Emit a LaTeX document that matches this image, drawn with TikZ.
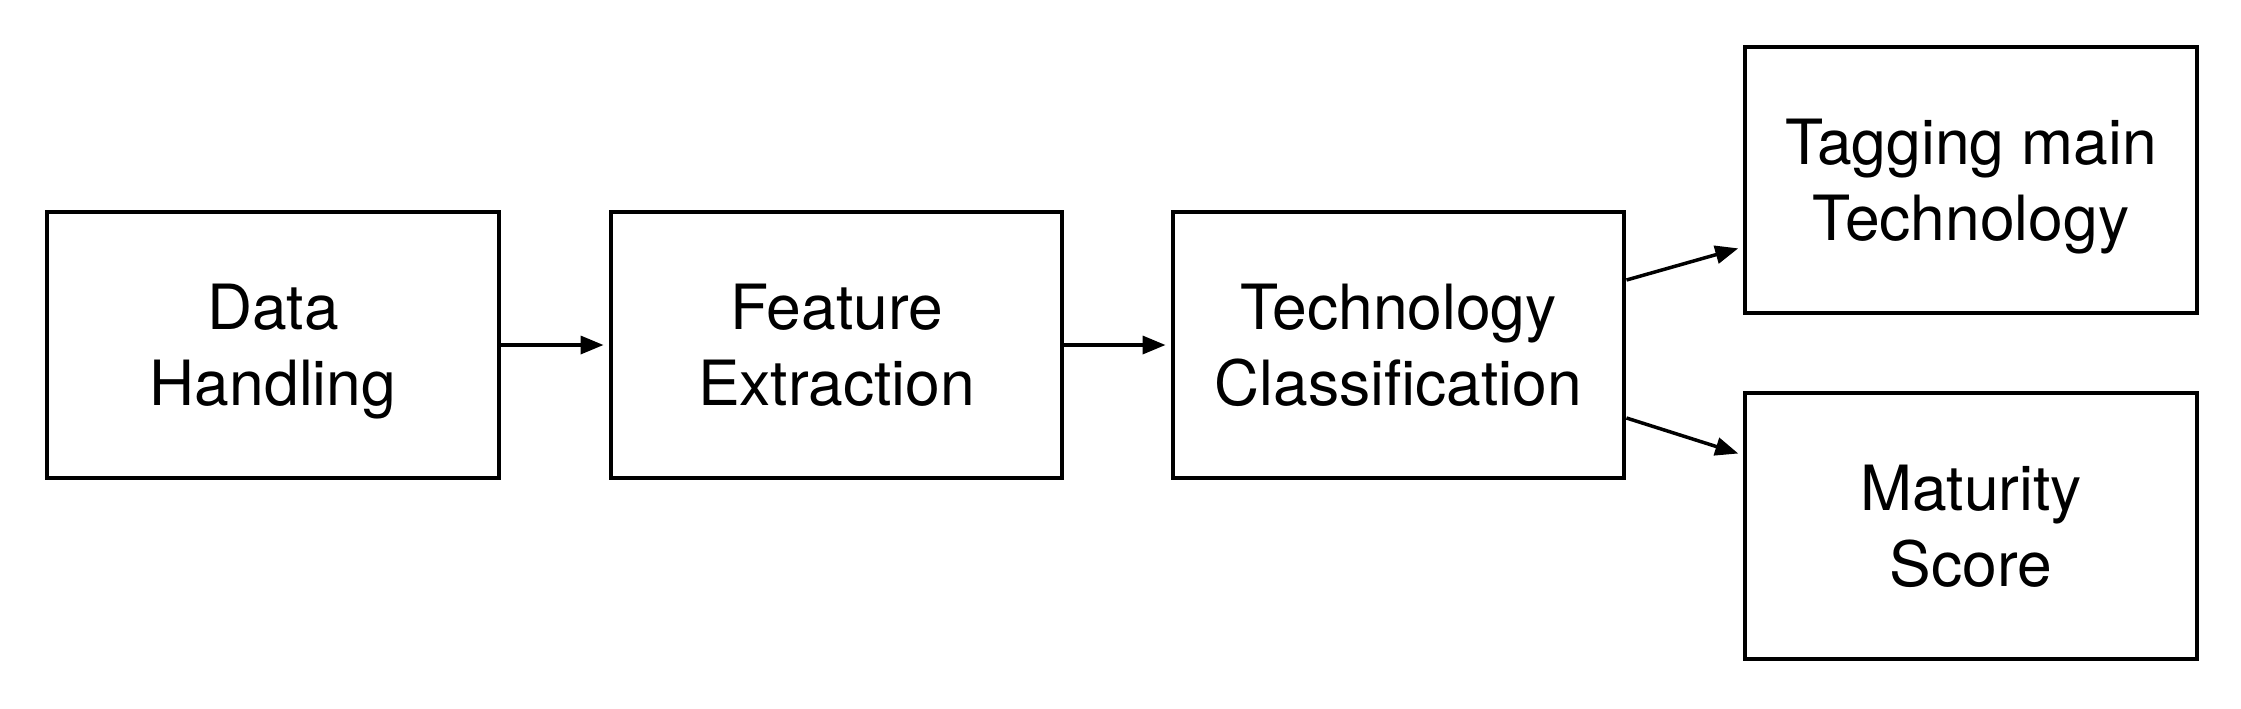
\documentclass[tikz,border=0pt]{standalone}
\usepackage{fontspec}
\setmainfont{TeX Gyre Heros}
\usetikzlibrary{arrows.meta}
\begin{document}
\begin{tikzpicture}[
  x=0.02cm, y=-0.02cm,
  stagebox/.style={draw=black, line width=0.08cm, minimum width=9.04cm, minimum height=5.34cm,
    inner sep=0pt, align=center, text depth=0pt, font=\fontsize{35.5}{43}\selectfont},
  flow/.style={line width=0.07cm, -{Triangle[length=0.46cm,width=0.36cm]}, shorten >=0.1cm}
]
\useasboundingbox (0,0) rectangle (2241,708);
\node[stagebox] (dh) at (273,345) {Data\\Handling};
\node[stagebox] (fe) at (836.5,345) {Feature\\Extraction};
\node[stagebox] (tc) at (1398.5,345) {Technology\\Classification};
\node[stagebox] (tm) at (1971,180) {Tagging main\\Technology};
\node[stagebox] (ms) at (1971,526) {Maturity\\Score};
\draw[flow] (dh.east) -- (fe.west);
\draw[flow] (fe.east) -- (tc.west);
\draw[flow] ([yshift=1.3cm]tc.east) -- ([yshift=-1.34cm]tm.west);
\draw[flow] ([yshift=-1.46cm]tc.east) -- ([yshift=1.42cm]ms.west);
\end{tikzpicture}
\end{document}
